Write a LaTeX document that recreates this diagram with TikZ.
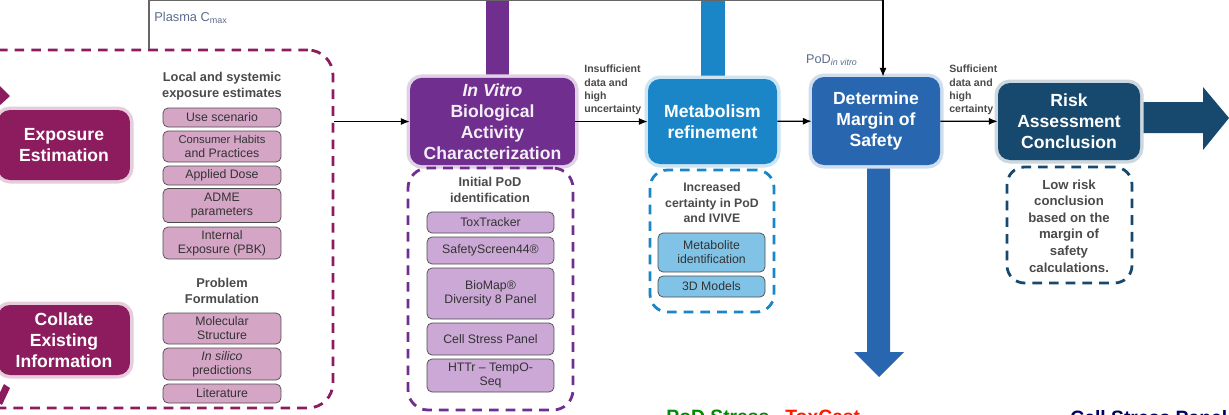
\documentclass[tikz,border=0pt]{standalone}
\usepackage{fontspec}
\setmainfont{Liberation Sans}
\usetikzlibrary{arrows.meta,positioning}

\definecolor{plum}{HTML}{8C1C5E}
\definecolor{plumitem}{HTML}{D5A5C6}
\definecolor{vpurple}{HTML}{702E8E}
\definecolor{vpurpleitem}{HTML}{CBA8D6}
\definecolor{metblue}{HTML}{1A86C8}
\definecolor{metitem}{HTML}{80C3E7}
\definecolor{mosblue}{HTML}{2866B0}
\definecolor{riskblue}{HTML}{17496F}
\definecolor{txtgray}{HTML}{4A4A4A}
\definecolor{labgray}{HTML}{5B6B8A}

\tikzset{
  stage/.style={rounded corners=0.24cm, fill=#1, text=white, align=center,
    font=\fontsize{10}{11.9}\selectfont\bfseries,
    preaction={draw=#1!22, line width=4pt}},
  itembox/.style={rounded corners=0.1cm, draw=black!70, fill=#1, align=center,
    text=black!80, font=\fontsize{7}{8}\selectfont, inner sep=1pt},
  grpbox/.style={rounded corners=0.5cm, draw=#1, dash pattern=on 5.5pt off 4pt, line width=1.6pt},
  grphead/.style={align=center, text=txtgray, font=\fontsize{7.3}{8.8}\selectfont\bfseries},
  cond/.style={align=left, text=txtgray, inner sep=0pt, font=\fontsize{6}{7.6}\selectfont\bfseries},
  flow/.style={-{Latex[length=5pt,width=4pt]}, line width=0.7pt},
}

\begin{document}
\begin{tikzpicture}[x=0.02cm, y=-0.02cm]
  \useasboundingbox (0,0) rectangle (1229,414);
  \clip (0,0) rectangle (1229,414);

  % bars coming from above
  \fill[vpurple] (486,-2) rectangle (509,80);
  \fill[metblue] (701,-2) rectangle (725,79);

  % exposure side
  \node[grpbox=plum, minimum width=7.26cm, minimum height=7.16cm] (expgrp) at (151.5,229) {};
  \node[stage=plum, minimum width=2.64cm, minimum height=1.4cm] (exposure) at (64,145) {Exposure\\Estimation};
  \node[stage=plum, minimum width=2.64cm, minimum height=1.4cm] (collate) at (64,340) {Collate\\Existing\\Information};
  \fill[plum] (-2,84) -- (10,96) -- (-2,107) -- cycle;
  \fill[plum] (4,384) -- (10,388) -- (2,405) -- (-4,401) -- cycle;

  \node[grphead] (lochead) at (222,86) {Local and systemic\\exposure estimates};
  \foreach \n/\y/\h/\t in {use/117.5/0.38/Use scenario,
      habits/146.5/0.62/{\fontsize{6.4}{7.6}\selectfont Consumer Habits\\and Practices},
      dose/175.5/0.38/Applied Dose,
      adme/205.5/0.68/{ADME\\parameters},
      pbk/243/0.64/{Internal\\Exposure (PBK)},
      molstr/328.5/0.62/{Molecular\\Structure},
      silico/364/0.64/{\textit{In silico}\\predictions},
      lit/393.5/0.38/Literature}
    \node[itembox=plumitem, minimum width=2.36cm, minimum height=\h cm] (\n) at (222,\y) {\t};
  \node[grphead] (probhead) at (222,291) {Problem\\Formulation};

  % in vitro
  \node[stage=vpurple, minimum width=3.3cm, minimum height=1.66cm, text=white!92!vpurple] (invitro) at (492.5,121.5)
    {\textit{In Vitro}\\Biological\\Activity\\Characterization};
  \node[grpbox=vpurple, minimum width=3.3cm, minimum height=4.84cm, rounded corners=0.4cm] (invgrp) at (490.5,289) {};
  \node[grphead] (podhead) at (490,190) {Initial PoD\\identification};
  \foreach \n/\y/\h/\t in {toxtr/222.5/0.42/ToxTracker,
      safety/250.5/0.54/SafetyScreen44\textregistered,
      biomap/293.5/1.02/{BioMap\textregistered\\Diversity 8 Panel},
      cellstr/339/0.64/Cell Stress Panel,
      httr/375.5/0.66/{HTTr -- TempO-\\Seq}}
    \node[itembox=vpurpleitem, minimum width=2.54cm, minimum height=\h cm] (\n) at (490.5,\y) {\t};

  % metabolism
  \node[stage=metblue, minimum width=2.58cm, minimum height=1.7cm] (metab) at (712.5,121.5) {Metabolism\\refinement};
  \node[grpbox=metblue, minimum width=2.48cm, minimum height=2.84cm, rounded corners=0.35cm] (metgrp) at (712,241) {};
  \node[grphead, font=\fontsize{7}{8.8}\selectfont\bfseries] (ivivehead) at (712,203) {Increased\\certainty in PoD\\and IVIVE};
  \node[itembox=metitem, minimum width=2.14cm, minimum height=0.78cm] (metid) at (711.5,252.5) {Metabolite\\identification};
  \node[itembox=metitem, minimum width=2.14cm, minimum height=0.42cm] (models) at (711.5,286.5) {3D Models};

  % margin of safety
  \fill[mosblue] (867,160) -- (890,160) -- (890,352) -- (904,352) -- (879,377) -- (854,352) -- (867,352) -- cycle;
  \node[stage=mosblue, minimum width=2.56cm, minimum height=1.76cm] (mos) at (876,121) {Determine\\Margin of\\Safety};

  % conclusion
  \fill[riskblue] (1135,102) -- (1203,102) -- (1203,87) -- (1229,118) -- (1203,150) -- (1203,133) -- (1135,133) -- cycle;
  \node[stage=riskblue, minimum width=2.84cm, minimum height=1.54cm] (risk) at (1069,121.5) {Risk\\Assessment\\Conclusion};
  \node[grpbox=riskblue, minimum width=2.5cm, minimum height=2.32cm, rounded corners=0.35cm] (riskgrp) at (1069.5,225) {};
  \node[grphead, font=\fontsize{7.5}{9.4}\selectfont\bfseries] (lowrisk) at (1069,226)
    {Low risk\\conclusion\\based on the\\margin of\\safety\\calculations.};

  % flow
  \coordinate (topl) at (149,0);
  \coordinate (topr) at (883,0);
  \draw[line width=0.7pt, black!60] (expgrp.north -| topl) -- (topl) -- (topr);
  \draw[flow] (topr) -- (topr |- mos.north);
  \draw[flow] (expgrp.east |- invitro.west) -- (invitro.west);
  \draw[flow] (invitro) -- (metab);
  \draw[flow] (metab) -- (mos);
  \draw[flow] (mos) -- (risk);

  \node[anchor=west, inner sep=0pt, text=labgray, font=\fontsize{7.3}{8}\selectfont] (cmax) at (154,18) {Plasma C\textsubscript{max}};
  \node[text=labgray, font=\fontsize{7.2}{8}\selectfont] (podvitro) at (832,60) {PoD\textsubscript{\textit{in vitro}}};
  \node[cond, anchor=west] (insuff) at (584,90) {Insufficient\\data and\\high\\uncertainty};
  \node[cond, anchor=west] (suff) at (949,90) {Sufficient\\data and\\high\\certainty};

  % labels cut off at the bottom edge
  \node[anchor=north west, inner sep=0pt, text=green!55!black, font=\fontsize{11}{12}\selectfont\bfseries] (podstress) at (666,410) {PoD Stress};
  \node[anchor=north west, inner sep=0pt, text=red!80!orange, font=\fontsize{11}{12}\selectfont\bfseries] (toxcast) at (785,410) {ToxCast};
  \node[anchor=north west, inner sep=0pt, text=blue!40!black, font=\fontsize{11}{12}\selectfont\bfseries] (cellpanel) at (1070,410) {Cell Stress Panel};
\end{tikzpicture}
\end{document}
